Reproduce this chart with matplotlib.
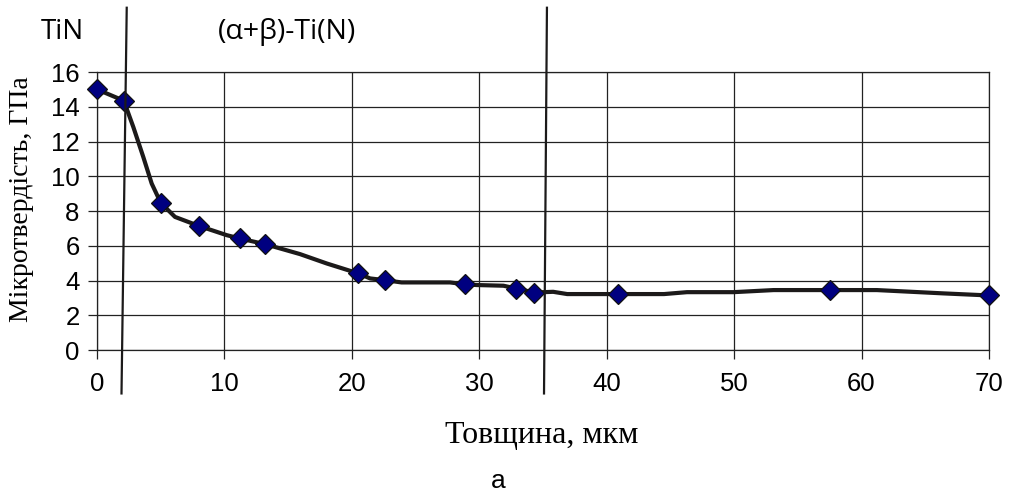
import matplotlib.pyplot as plt

# measured points (thickness, microhardness)
thickness = [0, 2.1, 5.0, 8.0, 11.2, 13.2, 20.5, 22.6, 28.9, 32.9, 34.3, 40.9, 57.5, 70]
hardness = [15.0, 14.35, 8.47, 7.14, 6.42, 6.09, 4.41, 4.02, 3.78, 3.54, 3.31, 3.22, 3.45, 3.14]

# trend curve vertices as drawn in the figure
curve_x = [0, 2.1, 2.85, 3.63, 4.29, 5.0, 6.12, 8.0, 10.18, 11.2, 13.2, 15.93, 18.03,
           20.5, 21.43, 22.6, 23.9, 27.7, 28.9, 29.8, 31.9, 32.9, 34.3, 35.8, 36.9,
           40.9, 44.5, 46.3, 49.95, 53.1, 57.5, 61.2, 66.4, 70]
curve_y = [15.0, 14.35, 12.83, 11.11, 9.58, 8.47, 7.66, 7.14, 6.61, 6.42, 6.09, 5.52, 4.98,
           4.41, 4.12, 4.02, 3.89, 3.89, 3.78, 3.74, 3.70, 3.54, 3.31, 3.35, 3.22,
           3.22, 3.22, 3.33, 3.33, 3.45, 3.45, 3.45, 3.26, 3.14]

# phase boundaries (x at top, x at bottom), y extent
boundaries = [(2.33, 1.92), (35.31, 35.08)]
boundary_y = (19.7, -2.5)

x_ticks = [0, 10, 20, 30, 40, 50, 60, 70]
y_ticks = [0, 2, 4, 6, 8, 10, 12, 14, 16]

fig = plt.figure(figsize=(10.14, 4.95), dpi=100)
ax = fig.add_axes([0.0957, 0.2929, 0.8796, 0.5616])

ax.set_xlim(0, 70)
ax.set_ylim(0, 16)
ax.set_xticks(x_ticks)
ax.set_yticks(y_ticks)
ax.grid(True, color='#222222', linewidth=0.9)
for s in ax.spines.values():
    s.set_color('#222222')
    s.set_linewidth(0.9)
ax.tick_params(axis='both', direction='out', length=6.5, width=0.9, color='#222222')
ax.tick_params(axis='y', labelsize=18.5, pad=6)
ax.tick_params(axis='x', labelsize=18.5, pad=9)
for lab in ax.get_xticklabels() + ax.get_yticklabels():
    lab.set_fontfamily('Liberation Sans')

ax.plot(curve_x, curve_y, color='#1c1a1a', linewidth=3, clip_on=False, zorder=3)
ax.plot(thickness, hardness, linestyle='none', marker='D', markersize=10,
        markerfacecolor='#000080', markeredgecolor='#111111', markeredgewidth=0.9,
        clip_on=False, zorder=4)

for xt, xb in boundaries:
    ax.plot([xt, xb], list(boundary_y), color='#1c1a1a', linewidth=1.6,
            clip_on=False, zorder=5)

fig.text(62 / 1014, 1 - 32 / 495, 'TiN', fontsize=20, family='Open Sans',
         ha='center', va='center')
fig.text(287 / 1014, 1 - 32 / 495, '(α+β)-Ti(N)', fontsize=20.5, family='Open Sans',
         ha='center', va='center')
fig.text(22 / 1014, 1 - 199 / 495, 'Мікротвердість, ГПа', fontsize=20,
         family='Liberation Serif', rotation=90, ha='center', va='center')
fig.text(542 / 1014, 1 - 436 / 495, 'Товщина, мкм', fontsize=23,
         family='Liberation Serif', ha='center', va='center')
fig.text(498 / 1014, 1 - 481 / 495, 'а', fontsize=19, family='Liberation Sans',
         ha='center', va='center')

fig.savefig('out.png', dpi=100)
